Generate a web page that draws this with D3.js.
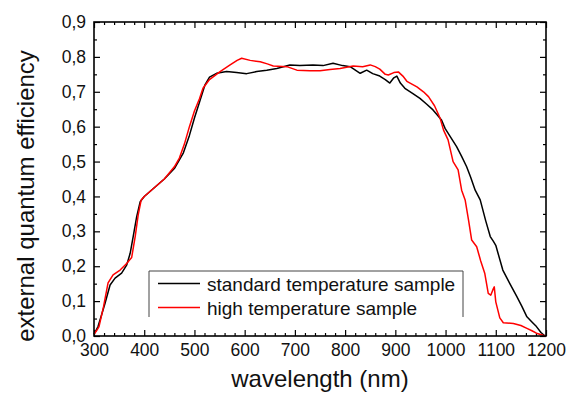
<!DOCTYPE html>
<html><head><meta charset="utf-8">
<script src="https://cdn.jsdelivr.net/npm/d3@7"></script>
<style>
body{margin:0;background:#fff;}
text{font-family:"Liberation Sans",Arial,sans-serif;fill:#111;}
</style></head>
<body><svg id="c" width="576" height="394"></svg>
<script>
const stdWavelength = [300,308,315,322,332,342,355,365,372,378,385,392,400,420,440,460,470,478,490,500,510,521,530,544,564,584,604,624,644,664,690,710,736,756,776,795,810,830,843,855,869,880,889,897,903,910,919,935,949,962,975,992,999,1010,1022,1032,1042,1050,1059,1069,1080,1089,1095,1100,1114,1128,1142,1152,1162,1172,1181,1190,1198];
const stdEQE = [0.005,0.027,0.06,0.094,0.146,0.166,0.18,0.203,0.237,0.285,0.342,0.385,0.40,0.425,0.45,0.48,0.505,0.525,0.575,0.625,0.67,0.72,0.742,0.753,0.758,0.755,0.752,0.758,0.762,0.767,0.777,0.775,0.777,0.775,0.782,0.775,0.772,0.753,0.762,0.752,0.745,0.735,0.725,0.74,0.745,0.725,0.71,0.695,0.681,0.665,0.648,0.619,0.595,0.57,0.543,0.515,0.485,0.455,0.418,0.39,0.33,0.285,0.272,0.26,0.189,0.15,0.113,0.085,0.055,0.04,0.027,0.01,0.0];
const highWavelength = [300,305,310,319,328,338,352,365,375,382,388,394,400,420,440,460,470,480,490,500,510,517,530,551,571,585,594,611,631,645,657,684,704,730,750,770,790,816,835,850,860,869,880,886,897,906,915,923,943,956,966,978,989,996,1005,1015,1025,1032,1039,1046,1052,1062,1070,1078,1085,1090,1095,1097,1100,1108,1115,1135,1150,1162,1172,1181,1194,1200];
const highEQE = [0.005,0.015,0.027,0.084,0.152,0.175,0.189,0.208,0.225,0.285,0.347,0.39,0.40,0.425,0.45,0.485,0.51,0.55,0.60,0.645,0.68,0.71,0.735,0.758,0.777,0.79,0.796,0.79,0.786,0.78,0.774,0.772,0.762,0.76,0.76,0.764,0.767,0.774,0.772,0.777,0.772,0.765,0.75,0.748,0.755,0.757,0.745,0.73,0.714,0.70,0.686,0.66,0.625,0.59,0.562,0.50,0.476,0.418,0.39,0.33,0.275,0.256,0.215,0.18,0.122,0.117,0.135,0.141,0.098,0.052,0.038,0.036,0.03,0.022,0.015,0.008,0.002,0.0];
const xTicks = [300,400,500,600,700,800,900,1000,1100,1200];
const yTicks = [0,0.1,0.2,0.3,0.4,0.5,0.6,0.7,0.8,0.9];
const seriesNames = ["standard temperature sample","high temperature sample"];
const seriesColors = ["#000000","#ff0000"];
const xTitle = "wavelength (nm)";
const yTitle = "external quantum efficiency";

const L=94,R=546,T=22,B=336;
const svg=d3.select("#c");
const x=d3.scaleLinear().domain([300,1200]).range([L,R]);
const y=d3.scaleLinear().domain([0,0.9]).range([B,T]);
const fmt=d=>d3.format(".1f")(d).replace(".",",");
const xMinor=d3.range(300,1201,20).filter(v=>v%100!==0);
const yMinor=d3.range(0,19).map(i=>i*0.05).filter((v,i)=>i%2===1);

function styleAxis(g){g.select(".domain").remove();g.selectAll("line").attr("stroke","#000").attr("stroke-width",1.2);g.selectAll("text").style("font-size","17.5px").attr("fill","#111");}

svg.append("g").attr("transform",`translate(0,${B})`).call(d3.axisBottom(x).tickValues(xTicks).tickSize(-6).tickPadding(8).tickFormat(d3.format("d"))).call(styleAxis);
svg.append("g").attr("transform",`translate(0,${B})`).call(d3.axisBottom(x).tickValues(xMinor).tickSize(-3).tickFormat("")).call(styleAxis);
svg.append("g").attr("transform",`translate(0,${T})`).call(d3.axisTop(x).tickValues(xTicks).tickSize(-6).tickFormat("")).call(styleAxis);
svg.append("g").attr("transform",`translate(0,${T})`).call(d3.axisTop(x).tickValues(xMinor).tickSize(-3).tickFormat("")).call(styleAxis);
svg.append("g").attr("transform",`translate(${L},0)`).call(d3.axisLeft(y).tickValues(yTicks).tickSize(-6).tickPadding(8).tickFormat(fmt)).call(styleAxis);
svg.append("g").attr("transform",`translate(${L},0)`).call(d3.axisLeft(y).tickValues(yMinor).tickSize(-3).tickFormat("")).call(styleAxis);
svg.append("g").attr("transform",`translate(${R},0)`).call(d3.axisRight(y).tickValues(yTicks).tickSize(-6).tickFormat("")).call(styleAxis);
svg.append("g").attr("transform",`translate(${R},0)`).call(d3.axisRight(y).tickValues(yMinor).tickSize(-3).tickFormat("")).call(styleAxis);

const line=d3.line().x(d=>x(d[0])).y(d=>y(d[1]));
const std=stdWavelength.map((w,i)=>[w,stdEQE[i]]);
const high=highWavelength.map((w,i)=>[w,highEQE[i]]);
svg.append("path").datum(std).attr("d",line).attr("fill","none").attr("stroke",seriesColors[0]).attr("stroke-width",1.5).attr("stroke-linejoin","round");
svg.append("path").datum(high).attr("d",line).attr("fill","none").attr("stroke",seriesColors[1]).attr("stroke-width",1.5).attr("stroke-linejoin","round");

svg.append("rect").attr("x",L).attr("y",T).attr("width",R-L).attr("height",B-T).attr("fill","none").attr("stroke","#000").attr("stroke-width",1.6);

// legend
const lg=svg.append("g");
lg.append("path").attr("d","M149,317V271H463V317").attr("fill","none").attr("stroke","#444").attr("stroke-width",1);
seriesNames.forEach((n,i)=>{
  const yy=283.5+i*24;
  lg.append("line").attr("x1",158).attr("x2",200).attr("y1",yy).attr("y2",yy).attr("stroke",seriesColors[i]).attr("stroke-width",1.5);
  lg.append("text").attr("x",207).attr("y",yy+7).style("font-size","19px").text(n);
});

svg.append("text").attr("x",320).attr("y",387).attr("text-anchor","middle").style("font-size","24px").text(xTitle);
svg.append("text").attr("transform","translate(34,196) rotate(-90)").attr("text-anchor","middle").style("font-size","24px").text(yTitle);
</script></body></html>
